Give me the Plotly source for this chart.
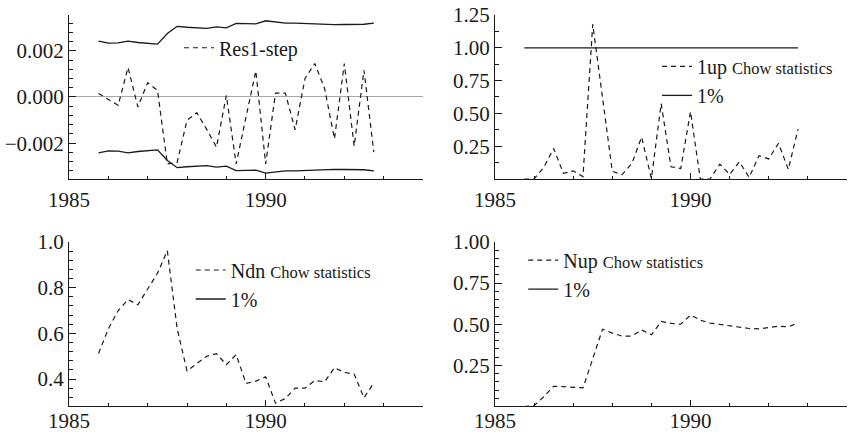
import plotly.graph_objects as go

# Quarterly observation dates (1985Q4 - 1992Q4)
quarters = [1985.75, 1986.0, 1986.25, 1986.5, 1986.75, 1987.0, 1987.25, 1987.5,
            1987.75, 1988.0, 1988.25, 1988.5, 1988.75, 1989.0, 1989.25, 1989.5,
            1989.75, 1990.0, 1990.25, 1990.5, 1990.75, 1991.0, 1991.25, 1991.5,
            1991.75, 1992.0, 1992.25, 1992.5, 1992.75]

# One-step residuals and the +/- 2 standard error band
res1_step = [0.00015, -0.0001, -0.00036, 0.00128, -0.00043, 0.00062, 0.00029, -0.0029,
             -0.00283, -0.00101, -0.00068, -0.0014, -0.00217, 0.00007, -0.0029, -0.00087,
             0.00113, -0.0029, 0.00017, 0.00017, -0.00142, 0.0008, 0.00145, 0.00036,
             -0.00181, 0.00145, -0.00213, 0.00116, -0.00239]
se_band = [0.00242, 0.00233, 0.00234, 0.00242, 0.00236, 0.00233, 0.00229, 0.00275,
           0.00306, 0.00302, 0.00298, 0.00297, 0.00304, 0.00299, 0.00319, 0.00318,
           0.00317, 0.00330, 0.00324, 0.00320, 0.00320, 0.00318, 0.00317, 0.00315,
           0.00313, 0.00314, 0.00315, 0.00315, 0.00320]

# Chow statistics scaled by their 1% critical values
chow_1up = [0.0, 0.0, 0.09, 0.232, 0.043, 0.062, 0.018, 1.18, 0.62, 0.058, 0.034, 0.118,
            0.32, 0.003, 0.575, 0.093, 0.08, 0.514, 0.0, 0.0, 0.113, 0.035, 0.131, 0.012,
            0.178, 0.153, 0.272, 0.073, 0.38]
chow_ndn = [0.512, 0.62, 0.70, 0.748, 0.725, 0.792, 0.863, 0.962, 0.62, 0.436, 0.468, 0.50,
            0.511, 0.463, 0.507, 0.381, 0.391, 0.41, 0.294, 0.315, 0.36, 0.36, 0.394, 0.388,
            0.45, 0.429, 0.422, 0.318, 0.384]
chow_nup = [0.0, 0.005, 0.06, 0.123, 0.121, 0.119, 0.113, 0.29, 0.47, 0.446, 0.428, 0.428,
            0.465, 0.436, 0.517, 0.505, 0.50, 0.556, 0.525, 0.507, 0.498, 0.489, 0.483, 0.474,
            0.472, 0.478, 0.488, 0.484, 0.508]
crit_1pct = [1.0, 1.0, 1.0, 1.0, 1.0, 1.0, 1.0, 1.0, 1.0, 1.0, 1.0, 1.0, 1.0, 1.0, 1.0,
             1.0, 1.0, 1.0, 1.0, 1.0, 1.0, 1.0, 1.0, 1.0, 1.0, 1.0, 1.0, 1.0, 1.0]

# Axis labels
year_ticks = [1985, 1990]
year_labels = ["1985", "1990"]
res_ticks = [-0.002, 0.0, 0.002]
res_labels = ["\u22120.002", "0.000", "0.002"]
up_ticks = [0.25, 0.5, 0.75, 1.0, 1.25]
up_labels = ["0.25", "0.50", "0.75", "1.00", "1.25"]
ndn_ticks = [0.4, 0.6, 0.8, 1.0]
ndn_labels = ["0.4", "0.6", "0.8", "1.0"]
nup_ticks = [0.25, 0.5, 0.75, 1.0]
nup_labels = ["0.25", "0.50", "0.75", "1.00"]

neg_band = [-v for v in se_band]

FONT = "'Liberation Serif', 'Times New Roman', serif"
INK = "#1a1a1a"
DASH = "5px,4px"
small = "<span style='font-size:16.5px'>Chow statistics</span>"

fig = go.Figure()

# Panel 1: residuals with error bands
fig.add_trace(go.Scatter(x=quarters, y=res1_step, mode="lines", name="Res1-step",
                         line=dict(color=INK, width=1.2, dash=DASH),
                         xaxis="x", yaxis="y", legend="legend"))
fig.add_trace(go.Scatter(x=quarters, y=se_band, mode="lines", showlegend=False,
                         line=dict(color=INK, width=1.3), xaxis="x", yaxis="y"))
fig.add_trace(go.Scatter(x=quarters, y=neg_band, mode="lines", showlegend=False,
                         line=dict(color=INK, width=1.3), xaxis="x", yaxis="y"))

# Panel 2: 1-step Chow
fig.add_trace(go.Scatter(x=quarters, y=chow_1up, mode="lines", name="1up " + small,
                         line=dict(color=INK, width=1.2, dash=DASH),
                         xaxis="x2", yaxis="y2", legend="legend2"))
fig.add_trace(go.Scatter(x=quarters, y=crit_1pct, mode="lines", name="1%",
                         line=dict(color=INK, width=1.3),
                         xaxis="x2", yaxis="y2", legend="legend2"))

# Panel 3: break-point Chow
fig.add_trace(go.Scatter(x=quarters, y=chow_ndn, mode="lines", name="Ndn " + small,
                         line=dict(color=INK, width=1.2, dash=DASH),
                         xaxis="x3", yaxis="y3", legend="legend3"))
fig.add_trace(go.Scatter(x=[None], y=[None], mode="lines", name="1%",
                         line=dict(color=INK, width=1.3),
                         xaxis="x3", yaxis="y3", legend="legend3"))

# Panel 4: forecast Chow
fig.add_trace(go.Scatter(x=quarters, y=chow_nup, mode="lines", name="Nup " + small,
                         line=dict(color=INK, width=1.2, dash=DASH),
                         xaxis="x4", yaxis="y4", legend="legend4"))
fig.add_trace(go.Scatter(x=[None], y=[None], mode="lines", name="1%",
                         line=dict(color=INK, width=1.3),
                         xaxis="x4", yaxis="y4", legend="legend4"))

tick_font = dict(family=FONT, size=21, color=INK)


def xax(domain, anchor, standoff):
    return dict(domain=domain, anchor=anchor, range=[1985, 1994], automargin=False,
                tickmode="array", tickvals=year_ticks, ticktext=year_labels,
                ticks="inside", ticklen=6, tickwidth=1, tickcolor=INK,
                ticklabelstandoff=standoff,
                minor=dict(ticks="inside", ticklen=3, tickwidth=1, tickcolor=INK,
                           dtick=1, tick0=1985, showgrid=False),
                showline=True, linecolor=INK, linewidth=1.2,
                showgrid=False, zeroline=False, tickfont=tick_font)


def yax(domain, anchor, rng, tv, tt, minor_dtick, zeroline=False):
    return dict(domain=domain, anchor=anchor, range=rng, automargin=False,
                tickmode="array", tickvals=tv, ticktext=tt,
                ticks="inside", ticklen=7, tickwidth=1, tickcolor=INK,
                minor=dict(ticks="inside", ticklen=4, tickwidth=1, tickcolor=INK,
                           dtick=minor_dtick, tick0=0, showgrid=False),
                showline=True, linecolor=INK, linewidth=1.2,
                showgrid=False, zeroline=zeroline, zerolinecolor="#a8a8a8",
                zerolinewidth=1.2, tickfont=tick_font)


left = [0.0813, 0.4982]
right = [0.5830, 0.9976]
top = [0.5876, 0.9654]
bottom = [0.0634, 0.4424]


def leg(x, y):
    return dict(x=x, y=y, xanchor="left", yanchor="middle", bgcolor="rgba(0,0,0,0)",
                borderwidth=0, itemwidth=30, tracegroupgap=0,
                font=dict(family=FONT, size=20, color=INK))


fig.update_layout(
    width=849, height=434,
    margin=dict(l=0, r=0, t=0, b=0, autoexpand=False),
    paper_bgcolor="white", plot_bgcolor="white",
    font=dict(family=FONT, color=INK),
    xaxis=xax(left, "y", 2),
    yaxis=yax(top, "x", [-0.00355, 0.00355], res_ticks, res_labels, 0.0004, zeroline=True),
    xaxis2=xax(right, "y2", 2),
    yaxis2=yax(top, "x2", [0, 1.25], up_ticks, up_labels, 0.125),
    xaxis3=xax(left, "y3", -5),
    yaxis3=yax(bottom, "x3", [0.28, 1.0], ndn_ticks, ndn_labels, 0.04),
    xaxis4=xax(right, "y4", -5),
    yaxis4=yax(bottom, "x4", [0, 1.0], nup_ticks, nup_labels, 0.05),
    legend=leg(0.2108, 0.8900),
    legend2=leg(0.7739, 0.8136),
    legend3=leg(0.2247, 0.3445),
    legend4=leg(0.6163, 0.3670),
    showlegend=True,
)

fig.write_html("out.html")
